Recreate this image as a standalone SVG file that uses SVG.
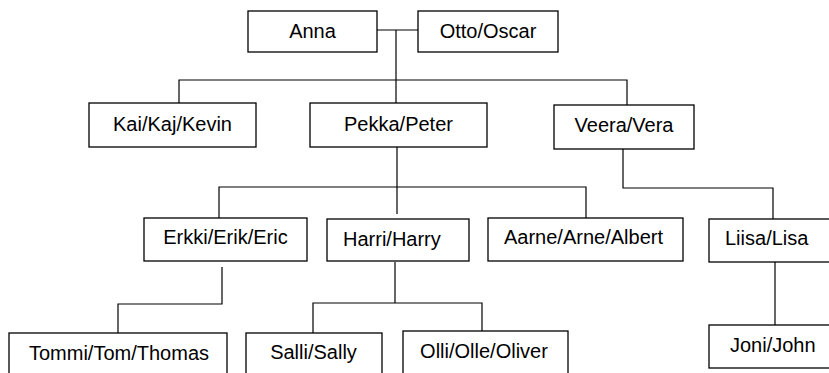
<svg xmlns="http://www.w3.org/2000/svg" width="829" height="373" viewBox="0 0 829 373">
<style>
rect{fill:#fff;stroke:#000;stroke-width:1.3}
text{font-family:"Liberation Sans",Arial,sans-serif;font-size:20px;fill:#000}
.c{text-anchor:middle}
#connectors path{fill:none;stroke:#000;stroke-width:1.2}
</style>
<rect x="0" y="0" width="829" height="373" style="stroke:none"/>
<g id="connectors">
<path d="M377,30H418"/>
<path d="M396,30V103"/>
<path d="M179,103V80H627V105"/>
<path d="M397,147V187"/>
<path d="M219,218V187H586V218"/>
<path d="M397,187V214"/>
<path d="M623,149V188H773V219"/>
<path d="M222,267V304H118V333"/>
<path d="M395,262V303"/>
<path d="M313,333V303H482V331"/>
<path d="M775,262V325"/>
</g>
<g id="anna"><rect x="248" y="11" width="129" height="41"/><text class="c" x="312.5" y="38">Anna</text></g>
<g id="otto"><rect x="418" y="11" width="140" height="41"/><text class="c" x="488" y="38">Otto/Oscar</text></g>
<g id="kai"><rect x="89" y="103" width="167" height="44"/><text class="c" x="172.5" y="131">Kai/Kaj/Kevin</text></g>
<g id="pekka"><rect x="310" y="103" width="177" height="44"/><text class="c" x="398.5" y="131">Pekka/Peter</text></g>
<g id="veera"><rect x="554" y="105" width="140" height="44"/><text class="c" x="624" y="132">Veera/Vera</text></g>
<g id="erkki"><rect x="144" y="218" width="163" height="43"/><text class="c" x="225.5" y="243.5">Erkki/Erik/Eric</text></g>
<g id="harri"><rect x="327" y="219" width="142" height="42"/><text x="343" y="246">Harri/Harry</text></g>
<g id="aarne"><rect x="488" y="218" width="195" height="43"/><text class="c" x="583.5" y="243.5">Aarne/Arne/Albert</text></g>
<g id="liisa"><rect x="709" y="219" width="125" height="43"/><text x="725" y="245">Liisa/Lisa</text></g>
<g id="tommi"><rect x="9" y="333" width="218" height="50"/><text class="c" x="119" y="359.5">Tommi/Tom/Thomas</text></g>
<g id="salli"><rect x="246" y="333" width="136" height="50"/><text class="c" x="313.5" y="359">Salli/Sally</text></g>
<g id="olli"><rect x="403" y="331" width="165" height="50"/><text class="c" x="484" y="357.5">Olli/Olle/Oliver</text></g>
<g id="joni"><rect x="709" y="325" width="125" height="43"/><text x="730" y="352">Joni/John</text></g>
</svg>
